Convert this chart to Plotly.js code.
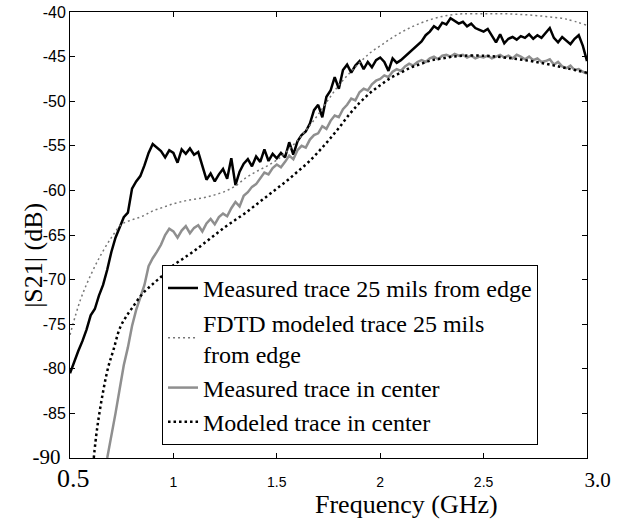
<!DOCTYPE html>
<html>
<head>
<meta charset="utf-8">
<script src="https://cdn.plot.ly/plotly-3.0.1.min.js"></script>
<style>html,body{margin:0;padding:0;background:#fff;}#chart{width:621px;height:524px;}</style>
</head>
<body>
<div id="chart"></div>
<script>
// Frequency grid (GHz) for the two measured traces
const freqMeas = [0.50,0.52,0.54,0.56,0.58,0.60,0.62,0.64,0.66,0.68,0.70,0.72,0.74,0.76,0.78,0.80,0.82,0.84,0.86,0.88,
0.90,0.92,0.94,0.96,0.98,1.00,1.02,1.04,1.06,1.08,1.10,1.12,1.14,1.16,1.18,1.20,1.22,1.24,1.26,1.28,
1.30,1.32,1.34,1.36,1.38,1.40,1.42,1.44,1.46,1.48,1.50,1.52,1.54,1.56,1.58,1.60,1.62,1.64,1.66,1.68,
1.70,1.72,1.74,1.76,1.78,1.80,1.82,1.84,1.86,1.88,1.90,1.92,1.94,1.96,1.98,2.00,2.02,2.04,2.06,2.08,
2.10,2.12,2.14,2.16,2.18,2.20,2.22,2.24,2.26,2.28,2.30,2.32,2.34,2.36,2.38,2.40,2.42,2.44,2.46,2.48,
2.50,2.52,2.54,2.56,2.58,2.60,2.62,2.64,2.66,2.68,2.70,2.72,2.74,2.76,2.78,2.80,2.82,2.84,2.86,2.88,
2.90,2.92,2.94,2.96,2.98,3.00];

// Measured trace 25 mils from edge (dB)
const measEdge = [-80.5,-79.2,-78.0,-76.9,-75.6,-74.0,-73.3,-71.8,-70.6,-68.9,-66.9,-65.3,-64.2,-63.0,-62.5,-59.8,-59.0,-58.4,-57.2,-55.8,
-54.8,-55.2,-55.6,-56.3,-55.5,-55.8,-56.9,-55.4,-55.9,-55.3,-56.0,-55.7,-57.4,-58.8,-58.1,-59.0,-58.2,-57.6,-58.7,-56.4,
-59.4,-57.9,-57.0,-56.5,-57.3,-56.2,-56.8,-55.4,-56.7,-55.9,-56.4,-55.8,-56.3,-54.6,-56.0,-54.5,-53.8,-53.4,-52.5,-51.0,
-50.4,-51.8,-49.5,-48.8,-47.3,-48.6,-46.5,-45.9,-46.8,-46.0,-45.5,-46.4,-45.6,-46.2,-45.4,-45.1,-45.6,-46.6,-45.2,-45.7,
-45.4,-45.0,-44.6,-44.2,-43.8,-43.3,-42.6,-42.2,-41.6,-41.9,-41.2,-41.4,-40.7,-41.0,-41.3,-41.1,-41.6,-41.3,-41.8,-42.0,
-42.2,-41.9,-42.6,-43.4,-42.5,-43.5,-43.0,-42.8,-43.1,-42.7,-42.9,-42.5,-43.0,-42.6,-42.9,-42.3,-41.8,-42.9,-43.4,-42.8,
-43.2,-43.6,-43.0,-42.6,-43.8,-45.5];

// Measured trace in center (dB); no data below 0.68 GHz (off-scale)
const measCenter = [null,null,null,null,null,null,null,null,null,-90.0,-87.6,-85.0,-82.3,-79.6,-77.6,-75.2,-73.4,-72.0,-70.6,-68.5,
-67.6,-66.9,-66.1,-65.0,-64.3,-64.6,-65.3,-64.5,-64.0,-64.8,-64.2,-63.9,-64.6,-63.7,-63.2,-63.8,-63.0,-62.6,-62.9,-62.0,
-61.3,-61.8,-60.6,-60.2,-59.6,-59.3,-58.6,-58.0,-58.2,-57.5,-57.1,-57.4,-56.8,-56.1,-56.5,-55.5,-55.0,-55.2,-54.3,-53.8,
-53.6,-52.8,-53.1,-52.2,-51.6,-51.8,-50.9,-50.4,-49.7,-49.9,-49.0,-48.6,-48.8,-48.1,-47.7,-47.5,-47.1,-47.3,-46.7,-46.4,
-46.6,-46.1,-45.8,-46.0,-45.6,-45.4,-45.6,-45.2,-45.0,-45.3,-44.9,-44.8,-45.0,-44.7,-44.9,-44.8,-45.1,-44.9,-45.2,-45.0,
-45.1,-44.9,-45.2,-45.0,-44.8,-45.1,-44.9,-45.2,-44.8,-45.0,-45.3,-45.0,-45.4,-45.2,-45.6,-45.5,-45.3,-45.9,-45.6,-46.1,
-46.3,-46.0,-46.5,-46.4,-46.7,-46.9];

// FDTD modeled trace 25 mils from edge
const freqFdtd = [0.50,0.55,0.60,0.65,0.70,0.75,0.80,0.85,0.90,0.95,1.00,1.05,1.10,1.15,1.20,1.25,1.30,1.35,1.40,1.45,
1.50,1.55,1.60,1.65,1.70,1.75,1.80,1.85,1.90,1.95,2.00,2.05,2.10,2.15,2.20,2.25,2.30,2.35,2.40,2.50,2.60,2.70,2.80,2.90,3.00];
const fdtdEdge = [-76.2,-72.3,-69.5,-67.2,-65.3,-63.8,-63.3,-62.9,-62.3,-61.9,-61.5,-61.2,-61.0,-60.8,-60.5,-60.1,-59.5,-58.6,-57.9,-57.3,
-56.6,-55.6,-54.4,-53.0,-51.5,-49.8,-48.2,-46.9,-45.7,-44.6,-43.8,-43.0,-42.3,-41.7,-41.2,-40.8,-40.5,-40.3,-40.2,-40.2,-40.2,-40.3,-40.5,-40.8,-41.5];

// Modeled trace in center
const freqModel = [0.615,0.63,0.655,0.685,0.71,0.74,0.77,0.80,0.85,0.90,0.95,1.00,1.05,1.10,1.15,1.20,1.25,1.30,1.35,1.40,
1.45,1.50,1.55,1.60,1.65,1.70,1.75,1.80,1.85,1.90,1.95,2.00,2.05,2.10,2.15,2.20,2.25,2.30,2.35,2.40,2.50,2.60,2.70,2.80,2.90,3.00];
const modelCenter = [-90.0,-86.9,-83.2,-79.8,-77.9,-75.5,-74.2,-73.2,-71.6,-70.5,-69.5,-68.4,-67.6,-66.8,-65.9,-65.0,-64.1,-63.3,-62.5,-61.6,
-60.7,-59.8,-58.9,-57.9,-56.9,-55.7,-54.4,-53.0,-51.5,-50.2,-49.1,-48.2,-47.4,-46.8,-46.2,-45.8,-45.4,-45.2,-45.0,-44.9,-44.9,-45.1,-45.4,-45.8,-46.3,-46.8];

const xTickVals = [0.5,1,1.5,2,2.5,3];
const xTickText = ['<span style="font-family:Liberation Serif;font-size:26px">\u00A00.5</span>','1','1.5','2','2.5','<span style="font-family:Liberation Serif;font-size:21px">\u00A0\u00A0\u00A0\u00A03.0</span>'];
const yTickVals = [-90,-85,-80,-75,-70,-65,-60,-55,-50,-45,-40];
const yTickText = ['<span style="font-family:Liberation Serif;font-size:21px">-90\u00A0</span>','-85','-80','-75','-70','-65','-60','-55','-50','-45','-40'];

const names = ['Measured trace 25 mils from edge','FDTD modeled trace 25 mils<br>from edge','Measured trace in center','Modeled trace in center'];

const traces = [
  {x: freqMeas, y: measEdge, name: names[0], mode:'lines', line:{color:'#000', width:2.5}},
  {x: freqFdtd, y: fdtdEdge, name: names[1], mode:'lines', line:{color:'#777', width:1.5, dash:'2px,3px', shape:'spline'}},
  {x: freqMeas, y: measCenter, name: names[2], mode:'lines', line:{color:'#8f8f8f', width:2.5}},
  {x: freqModel, y: modelCenter, name: names[3], mode:'lines', line:{color:'#000', width:2.5, dash:'2.5px,3px', shape:'spline'}}
];

const layout = {
  width:621, height:524,
  margin:{l:70, r:34, t:12, b:66},
  paper_bgcolor:'#fff', plot_bgcolor:'#fff',
  font:{family:'Liberation Sans, Arial', color:'#000'},
  showlegend:true,
  legend:{x:0.178, y:0.433, xanchor:'left', yanchor:'top', bgcolor:'#fff', bordercolor:'#000', borderwidth:1,
          font:{family:'Liberation Serif, Times New Roman', size:24, color:'#000'}, itemwidth:30, tracegroupgap:0},
  xaxis:{range:[0.5,3.0], tickvals:xTickVals, ticktext:xTickText, ticks:'inside', ticklen:5, tickcolor:'#000',
         showline:true, linecolor:'#000', linewidth:1, mirror:'ticks', showgrid:false, zeroline:false,
         tickfont:{size:14, family:'Liberation Sans, Arial'}, ticklabelstandoff:11},
  yaxis:{range:[-90.001,-39.999], tickvals:yTickVals, ticktext:yTickText, ticks:'inside', ticklen:5, tickcolor:'#000',
         showline:true, linecolor:'#000', linewidth:1, mirror:'ticks', showgrid:false, zeroline:false,
         tickfont:{size:16, family:'Liberation Sans, Arial'}, ticklabelstandoff:0},
  annotations:[
    {text:'Frequency (GHz)', xref:'paper', yref:'paper', x:0.65, y:-0.068, xanchor:'center', yanchor:'top', showarrow:false,
     font:{family:'Liberation Serif, Times New Roman', size:26, color:'#000'}},
    {text:'|S21| (dB)', xref:'paper', yref:'paper', x:-0.072, y:0.455, xanchor:'center', yanchor:'middle', textangle:-90, showarrow:false,
     font:{family:'Liberation Serif, Times New Roman', size:26, color:'#000'}}
  ]
};

Plotly.newPlot('chart', traces, layout, {displayModeBar:false, staticPlot:true});
</script>
</body>
</html>
